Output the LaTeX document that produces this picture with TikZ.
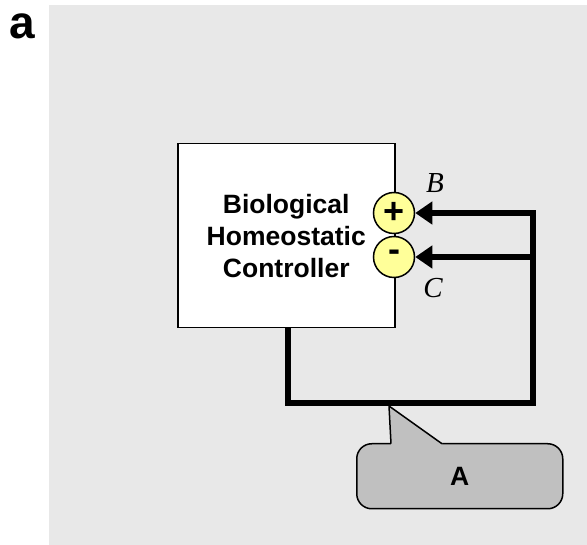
\documentclass[tikz,border=0pt]{standalone}
\usepackage{fontspec}
\setmainfont{Liberation Sans}
\newfontfamily\timesf{Liberation Serif}
\usetikzlibrary{arrows.meta}
\definecolor{bggray}{RGB}{232,232,232}
\definecolor{calgray}{RGB}{192,192,192}
\definecolor{signyellow}{RGB}{255,255,153}
\tikzset{
  fb/.style={line width=5.5pt, line join=miter},
  fbarrow/.style={fb, -{Triangle[length=17pt,width=22pt]}},
  signcirc/.style={circle, draw, line width=1.5pt, fill=signyellow, minimum size=41pt, inner sep=0pt,
    font=\fontsize{36}{36}\selectfont\bfseries},
  sidelabel/.style={font=\fontsize{29}{29}\selectfont\timesf\itshape},
}
\begin{document}
\begin{tikzpicture}[x=1pt,y=-1pt]
\useasboundingbox (0,0) rectangle (587,545);
\fill[bggray] (49,5) rectangle (587,545);
\node[font=\fontsize{46}{46}\selectfont\bfseries, anchor=base] (lbl) at (22,39) {a};

\node[draw, fill=white, line width=1.5pt, minimum width=217pt, minimum height=184pt,
  anchor=north west, align=center, inner sep=0pt,
  font=\fontsize{26.5}{32}\selectfont\bfseries] (ctrl) at (177,143)
  {Biological\\Homeostatic\\Controller};

\node[signcirc] (plus) at (394,213) {\raisebox{1pt}{+}};
\node[signcirc] (minus) at (394,257) {\raisebox{2pt}{-}};
\node[sidelabel] (B) at (435,183) {B};
\node[sidelabel] (C) at (433,288) {C};

\coordinate (br) at (533,403);
\coordinate (tr) at (533,213);
\coordinate (mr) at (533,257);
\draw[fbarrow] ([xshift=1.5pt]ctrl.south) |- (br) -- (tr) -- (plus.east);
\draw[fbarrow] (mr) -- (minus.east);

\node[draw, fill=calgray, line width=1.5pt, rounded corners=15pt, minimum width=206pt,
  minimum height=65pt, anchor=north west, inner sep=0pt,
  font=\fontsize{26.5}{26.5}\selectfont\bfseries] (callA) at (356,443) {A};
\fill[calgray] (391,446) -- (391,443) -- (389,406) -- (442,443) -- (442,446) -- cycle;
\draw[line width=1.5pt, line join=miter] (391,443.75) -- (389,406) -- (442,443.75);
\end{tikzpicture}
\end{document}
